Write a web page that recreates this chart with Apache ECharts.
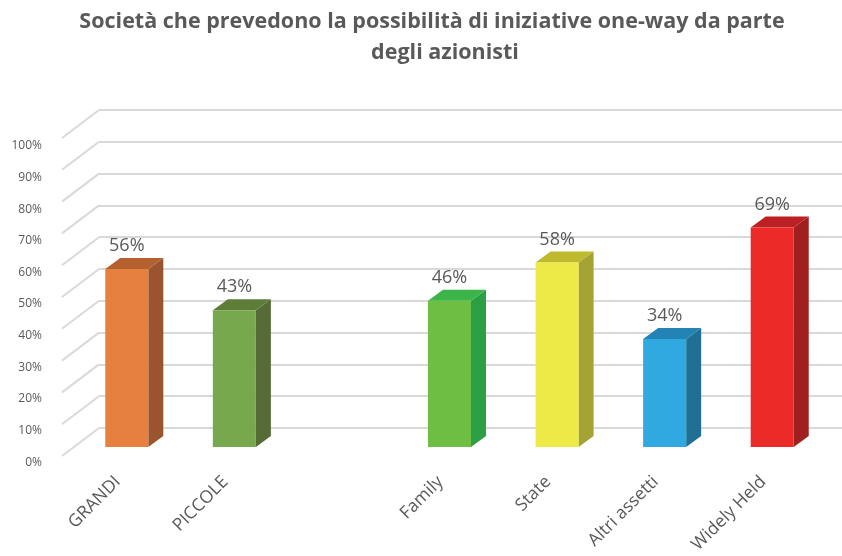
<!DOCTYPE html>
<html>
<head>
<meta charset="utf-8">
<script src="https://cdn.jsdelivr.net/npm/echarts@6/dist/echarts.min.js"></script>
<style>
  html, body { margin: 0; padding: 0; background: #fff; }
  #chart { width: 842px; height: 556px; }
</style>
</head>
<body>
<div id="chart"></div>
<script>
// Share of companies allowing one-way shareholder initiatives, by group
const titleLines = ['Società che prevedono la possibilità di iniziative one-way da parte', 'degli azionisti'];
const categories = ['GRANDI', 'PICCOLE', '', 'Family', 'State', 'Altri assetti', 'Widely Held'];
const values = [56, 43, null, 46, 58, 34, 69];
const tickValues = [0, 10, 20, 30, 40, 50, 60, 70, 80, 90, 100];

// front / side / top face colours for each bar
const frontColors = ['#E6803F', '#78A84E', null, '#6FBE44', '#EDEA48', '#2FA9E0', '#EC2A28'];
const sideColors  = ['#9A5530', '#566B35', null, '#2C9E44', '#A4A233', '#206F95', '#A02020'];
const topColors   = ['#B5602F', '#5E7D39', null, '#3BB54A', '#BEBA2E', '#2383B5', '#BC2024'];

const TEXT = '#595959';
const GRID_LINE = '#D9D9D9';
const DEPTH_X = 15, DEPTH_Y = -11;      // bar depth offset
const WALL_X = -37, WALL_Y = 28;        // back wall → front edge offset

const chart = echarts.init(document.getElementById('chart'), null, { renderer: 'canvas' });

const barData = values.map((v, i) => v == null ? null : [i, v]).filter(d => d);

const titleStyle = {
  fontFamily: 'Open Sans',
  fontWeight: 'bold',
  fontSize: 21.5,
  color: TEXT,
  lineHeight: 32
};

chart.setOption({
  animation: false,
  title: [
    { text: titleLines[0], left: 427, textAlign: 'center', top: 1, textStyle: titleStyle },
    { text: titleLines[1], left: 440, textAlign: 'center', top: 32, textStyle: titleStyle }
  ],
  grid: [
    // bar plane
    { left: 73, right: 16, top: 129, bottom: 109 },
    // back wall with gridlines
    { left: 99, right: 0, top: 110, bottom: 128 },
    // front labels
    { left: 64, right: 25, top: 146, bottom: 92 }
  ],
  xAxis: [
    { gridIndex: 0, type: 'category', data: categories, show: false },
    { gridIndex: 1, type: 'value', min: 0, max: 1, show: false },
    {
      gridIndex: 2, type: 'category', data: categories,
      axisLine: { show: false }, axisTick: { show: false },
      axisLabel: {
        rotate: 45, margin: 17, interval: 0,
        fontFamily: 'Open Sans', fontSize: 17.5, color: TEXT
      }
    }
  ],
  yAxis: [
    { gridIndex: 0, type: 'value', min: 0, max: 100, show: false },
    {
      gridIndex: 1, type: 'value', min: 0, max: 100, interval: 10,
      axisLine: { show: false }, axisTick: { show: false }, axisLabel: { show: false },
      splitLine: { show: true, lineStyle: { color: GRID_LINE, width: 2 } }
    },
    {
      gridIndex: 2, type: 'value', min: 0, max: 100, interval: 10,
      axisLine: { show: false }, axisTick: { show: false }, splitLine: { show: false },
      axisLabel: {
        margin: 22, fontFamily: 'Open Sans', fontSize: 12, color: TEXT,
        formatter: v => v + '%'
      }
    }
  ],
  series: [
    {
      // side-wall diagonals joining each gridline to the front edge
      type: 'custom',
      xAxisIndex: 1, yAxisIndex: 1,
      data: tickValues.map(v => [0, v]),
      silent: true,
      renderItem: (params, api) => {
        const p = api.coord([0, api.value(1)]);
        return {
          type: 'line',
          shape: { x1: p[0], y1: p[1], x2: p[0] + WALL_X, y2: p[1] + WALL_Y },
          style: { stroke: GRID_LINE, lineWidth: 2 }
        };
      }
    },
    {
      // 3D bars with value labels
      type: 'custom',
      xAxisIndex: 0, yAxisIndex: 0,
      data: barData,
      renderItem: (params, api) => {
        const idx = api.value(0);
        const v = api.value(1);
        const top = api.coord([idx, v]);
        const base = api.coord([idx, 0]);
        const bw = api.size([1, 0])[0] * 0.4;
        const x0 = top[0] - bw / 2, x1 = top[0] + bw / 2;
        const yt = top[1], yb = base[1];
        return {
          type: 'group',
          children: [
            {
              type: 'polygon',
              shape: { points: [[x1, yt], [x1 + DEPTH_X, yt + DEPTH_Y], [x1 + DEPTH_X, yb + DEPTH_Y], [x1, yb]] },
              style: { fill: sideColors[idx] }
            },
            {
              type: 'polygon',
              shape: { points: [[x0, yt], [x0 + DEPTH_X, yt + DEPTH_Y], [x1 + DEPTH_X, yt + DEPTH_Y], [x1, yt]] },
              style: { fill: topColors[idx] }
            },
            {
              type: 'rect',
              shape: { x: x0, y: yt, width: bw, height: yb - yt },
              style: { fill: frontColors[idx] }
            },
            {
              type: 'text',
              x: top[0], y: yt - 23,
              style: {
                text: v + '%',
                fill: TEXT,
                font: '18px "Open Sans"',
                align: 'center',
                verticalAlign: 'middle'
              }
            }
          ]
        };
      }
    }
  ]
});
</script>
</body>
</html>
